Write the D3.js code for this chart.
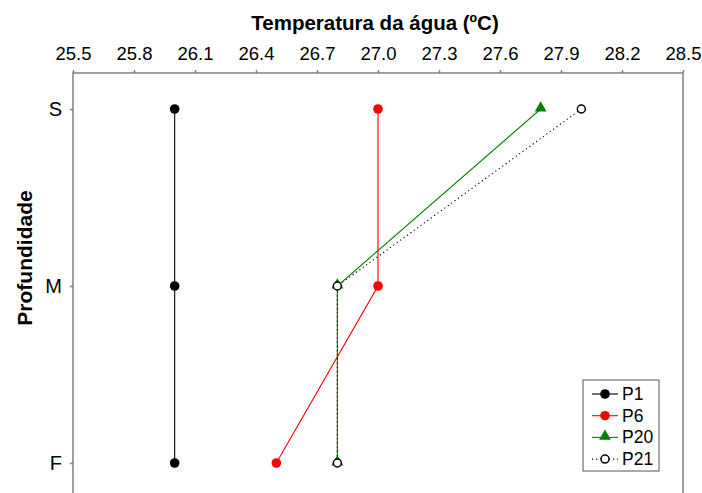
<!DOCTYPE html>
<html>
<head>
<meta charset="utf-8">
<script src="https://cdn.jsdelivr.net/npm/d3@7"></script>
<style>
  html, body { margin: 0; padding: 0; background: #fff; }
  svg { display: block; font-family: Arial, "Liberation Sans", sans-serif; }
</style>
</head>
<body>
<svg id="chart" width="702" height="493"></svg>
<script>
// Depth levels (surface, middle, bottom) and temperature per station
const depths = ["S", "M", "F"];
const xTicks = [25.5, 25.8, 26.1, 26.4, 26.7, 27.0, 27.3, 27.6, 27.9, 28.2, 28.5];
const p1  = [26.0, 26.0, 26.0];
const p6  = [27.0, 27.0, 26.5];
const p20 = [27.8, 26.8, 26.8];
const p21 = [28.0, 26.8, 26.8];

const series = [
  { name: "P1",  values: p1,  color: "#000000", marker: "dot",   dash: null },
  { name: "P6",  values: p6,  color: "#ff0000", marker: "dot",   dash: null },
  { name: "P20", values: p20, color: "#008000", marker: "tri",   dash: null },
  { name: "P21", values: p21, color: "#000000", marker: "open",  dash: "1.2,3" }
];

const svg = d3.select("#chart");
const plot = { left: 73, right: 683, top: 73, bottom: 499 };

const x = d3.scaleLinear().domain([25.5, 28.5]).range([plot.left, plot.right]);
const y = d3.scalePoint().domain(depths).range([109, 463]);

// Frame
svg.append("rect")
  .attr("x", plot.left).attr("y", plot.top)
  .attr("width", plot.right - plot.left).attr("height", plot.bottom - plot.top)
  .attr("fill", "none").attr("stroke", "#808080").attr("stroke-width", 1.5);

// Top axis
const xAxis = svg.append("g")
  .attr("transform", `translate(0,${plot.top})`)
  .call(d3.axisTop(x).tickValues(xTicks).tickFormat(d3.format(".1f")).tickSize(3).tickPadding(10));
xAxis.select(".domain").remove();
xAxis.selectAll(".tick line").attr("stroke", "#808080").attr("stroke-width", 1.5);
xAxis.selectAll(".tick text").attr("font-size", 18.5).attr("fill", "#000")
  .attr("font-family", "Arial, 'Liberation Sans', sans-serif");

// Left axis
const yAxis = svg.append("g")
  .attr("transform", `translate(${plot.left},0)`)
  .call(d3.axisLeft(y).tickSize(3).tickPadding(8));
yAxis.select(".domain").remove();
yAxis.selectAll(".tick line").attr("stroke", "#808080").attr("stroke-width", 1.5);
yAxis.selectAll(".tick text").attr("font-size", 20).attr("fill", "#000")
  .attr("font-family", "Arial, 'Liberation Sans', sans-serif");

// Titles
svg.append("text")
  .attr("x", 375).attr("y", 30)
  .attr("text-anchor", "middle")
  .attr("font-size", 20.5).attr("font-weight", "bold")
  .text("Temperatura da água (ºC)");

svg.append("text")
  .attr("transform", "translate(32,258) rotate(-90)")
  .attr("text-anchor", "middle")
  .attr("font-size", 21).attr("font-weight", "bold")
  .text("Profundidade");

const line = d3.line().x(d => x(d.v)).y(d => y(d.d));

function drawMarker(g, type, color, cx, cy) {
  if (type === "dot") {
    g.append("circle").attr("cx", cx).attr("cy", cy).attr("r", 4.8).attr("fill", color);
  } else if (type === "open") {
    g.append("circle").attr("cx", cx).attr("cy", cy).attr("r", 4)
      .attr("fill", "#fff").attr("stroke", "#000").attr("stroke-width", 1.5);
  } else {
    g.append("path")
      .attr("d", d3.symbol().type(d3.symbolTriangle).size(60)())
      .attr("transform", `translate(${cx},${cy - 1})`)
      .attr("fill", color);
  }
}

series.forEach(s => {
  const pts = s.values.map((v, i) => ({ v, d: depths[i] }));
  const g = svg.append("g");
  g.append("path").datum(pts)
    .attr("d", line)
    .attr("fill", "none")
    .attr("stroke", s.color)
    .attr("stroke-width", 1.1)
    .attr("stroke-dasharray", s.dash);
  pts.forEach(p => drawMarker(g, s.marker, s.color, x(p.v), y(p.d)));
});

// Legend
const lg = svg.append("g");
lg.append("rect").attr("x", 583).attr("y", 380).attr("width", 76).attr("height", 91)
  .attr("fill", "#fff").attr("stroke", "#555").attr("stroke-width", 1);
series.forEach((s, i) => {
  const yy = 394 + i * 21.7;
  lg.append("line").attr("x1", 592).attr("x2", 618).attr("y1", yy).attr("y2", yy)
    .attr("stroke", s.color).attr("stroke-width", 1.1).attr("stroke-dasharray", s.dash);
  drawMarker(lg, s.marker, s.color, 605, yy);
  lg.append("text").attr("x", 622).attr("y", yy + 6)
    .attr("font-size", 17.5).text(s.name);
});
</script>
</body>
</html>
